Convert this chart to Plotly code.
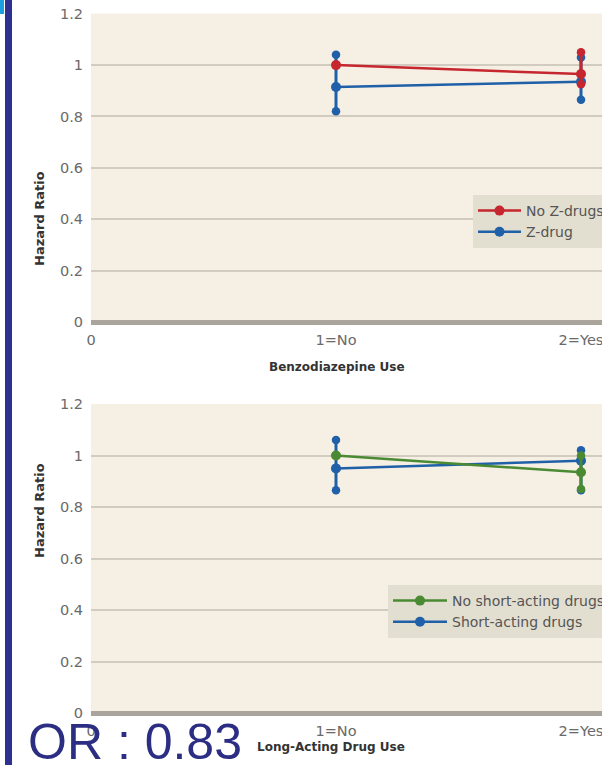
import plotly.graph_objects as go

# ---------------- data ----------------
cats = [1, 2]
x_tickvals = [0, 1, 2]
x_ticktext = ["0", "1=No", "2=Yes"]
y_tickvals = [0, 0.2, 0.4, 0.6, 0.8, 1.0, 1.2]
y_ticktext = ["0", "0.2", "0.4", "0.6", "0.8", "1", "1.2"]

# Top panel: Benzodiazepine use by Z-drug use
no_z_mid = [1.00, 0.965]
no_z_lo = [None, 0.925]
no_z_hi = [None, 1.05]
z_mid = [0.915, 0.935]
z_lo = [0.82, 0.865]
z_hi = [1.04, 1.03]

# Bottom panel: Long-acting drug use by short-acting drug use
no_short_mid = [1.00, 0.935]
no_short_lo = [None, 0.87]
no_short_hi = [None, 1.00]
short_mid = [0.95, 0.98]
short_lo = [0.865, 0.865]
short_hi = [1.06, 1.02]

RED = "#c6262e"
BLUE = "#1f60a8"
GREEN = "#4a8a32"

W, H = 602, 765
fig = go.Figure()


def add_series(xa, ya, name, mid, lo, hi, color, legend, rank):
    plus = [h - m if h is not None else 0 for m, h in zip(mid, hi)]
    minus = [m - l if l is not None else 0 for m, l in zip(mid, lo)]
    fig.add_trace(go.Scatter(
        x=cats, y=mid, mode="lines+markers", name=name,
        line=dict(color=color, width=2.5),
        marker=dict(size=10, color=color),
        error_y=dict(type="data", symmetric=False, array=plus, arrayminus=minus,
                     width=0, thickness=3, color=color),
        xaxis=xa, yaxis=ya, legend=legend, legendrank=rank))
    ex, ey = [], []
    for c, l, h in zip(cats, lo, hi):
        if l is not None:
            ex.append(c); ey.append(l)
        if h is not None:
            ex.append(c); ey.append(h)
    fig.add_trace(go.Scatter(
        x=ex, y=ey, mode="markers", marker=dict(size=8.5, color=color),
        showlegend=False, hoverinfo="skip", xaxis=xa, yaxis=ya))


add_series("x", "y", "Z-drug", z_mid, z_lo, z_hi, BLUE, "legend", 2)
add_series("x", "y", "No Z-drugs", no_z_mid, no_z_lo, no_z_hi, RED, "legend", 1)
add_series("x2", "y2", "Short-acting drugs", short_mid, short_lo, short_hi, BLUE, "legend2", 2)
add_series("x2", "y2", "No short-acting drugs", no_short_mid, no_short_lo, no_short_hi, GREEN, "legend2", 1)

tickfont = dict(family="DejaVu Sans", size=14.5, color="#6a6a6a")
x_left = 91 / W
xr = [0, (W - 91) / 245.0]


def xaxis_cfg(anchor):
    return dict(domain=[x_left, 1], range=xr, tickvals=x_tickvals, ticktext=x_ticktext,
                showgrid=False, zeroline=False, showline=False, ticks="outside",
                ticklen=2, tickcolor="rgba(0,0,0,0)", tickfont=tickfont, anchor=anchor,
                ticklabeloverflow="allow", automargin=False, fixedrange=True)


def yaxis_cfg(domain, anchor):
    return dict(domain=domain, range=[-0.01, 1.2], tickvals=y_tickvals, ticktext=y_ticktext,
                showgrid=True, gridcolor="#d2ccc0", gridwidth=2,
                zeroline=True, zerolinecolor="#aaa59c", zerolinewidth=5,
                showline=False, ticks="outside", ticklen=4, tickcolor="rgba(0,0,0,0)",
                tickfont=tickfont, anchor=anchor, automargin=False, fixedrange=True)


legend_font = dict(family="DejaVu Sans", size=14, color="#555555")

fig.update_layout(
    width=W, height=H,
    margin=dict(l=0, r=0, t=0, b=0, autoexpand=False),
    paper_bgcolor="white",
    plot_bgcolor="#f5efe4",
    xaxis=xaxis_cfg("y"),
    yaxis=yaxis_cfg([1 - 324.6 / H, 1 - 13.7 / H], "x"),
    xaxis2=xaxis_cfg("y2"),
    yaxis2=yaxis_cfg([1 - 715.6 / H, 1 - 404 / H], "x2"),
    legend=dict(x=473 / W, xanchor="left", y=1 - 195 / H, yanchor="top",
                bgcolor="#e3dfd0", font=legend_font, borderwidth=0, itemwidth=43),
    legend2=dict(x=388 / W, xanchor="left", y=1 - 585 / H, yanchor="top",
                 bgcolor="#e3dfd0", font=legend_font, borderwidth=0, itemwidth=54),
    showlegend=True,
)

title_font = dict(family="DejaVu Sans", size=12, color="#333333")
annotations = [
    dict(text="<b>Hazard Ratio</b>", x=30 / W, y=1 - 169 / H, textangle=-90,
         font=dict(family="DejaVu Sans", size=13, color="#333333")),
    dict(text="<b>Hazard Ratio</b>", x=30 / W, y=1 - 560 / H, textangle=-90,
         font=dict(family="DejaVu Sans", size=13, color="#333333")),
    dict(text="<b>Benzodiazepine Use</b>", x=337 / W, y=1 - 367 / H, font=title_font),
    dict(text="<b>Long-Acting Drug Use</b>", x=331 / W, y=1 - 756 / H, font=title_font),
    dict(text="OR : 0.83", x=26 / W, xanchor="left", y=1 - 742 / H, yanchor="middle",
         font=dict(family="Liberation Sans, Arial", size=50, color="#2b2e83")),
]
for a in annotations:
    a.setdefault("xref", "paper")
    a.setdefault("yref", "paper")
    a.setdefault("showarrow", False)
fig.update_layout(annotations=annotations)

# slide decoration: left bar and top-left accent
fig.update_layout(shapes=[
    dict(type="rect", xref="paper", yref="paper", x0=5 / W, x1=12 / W, y0=0, y1=1,
         fillcolor="#2e3192", line=dict(width=0), layer="above"),
    dict(type="rect", xref="paper", yref="paper", x0=0, x1=4 / W, y0=1 - 14 / H, y1=1,
         fillcolor="#1ea0e0", line=dict(width=0), layer="above"),
])

fig.write_html(
    "out.html",
    config={"displayModeBar": False},
    post_script="document.body.style.margin='0';document.body.style.overflow='hidden';",
)
